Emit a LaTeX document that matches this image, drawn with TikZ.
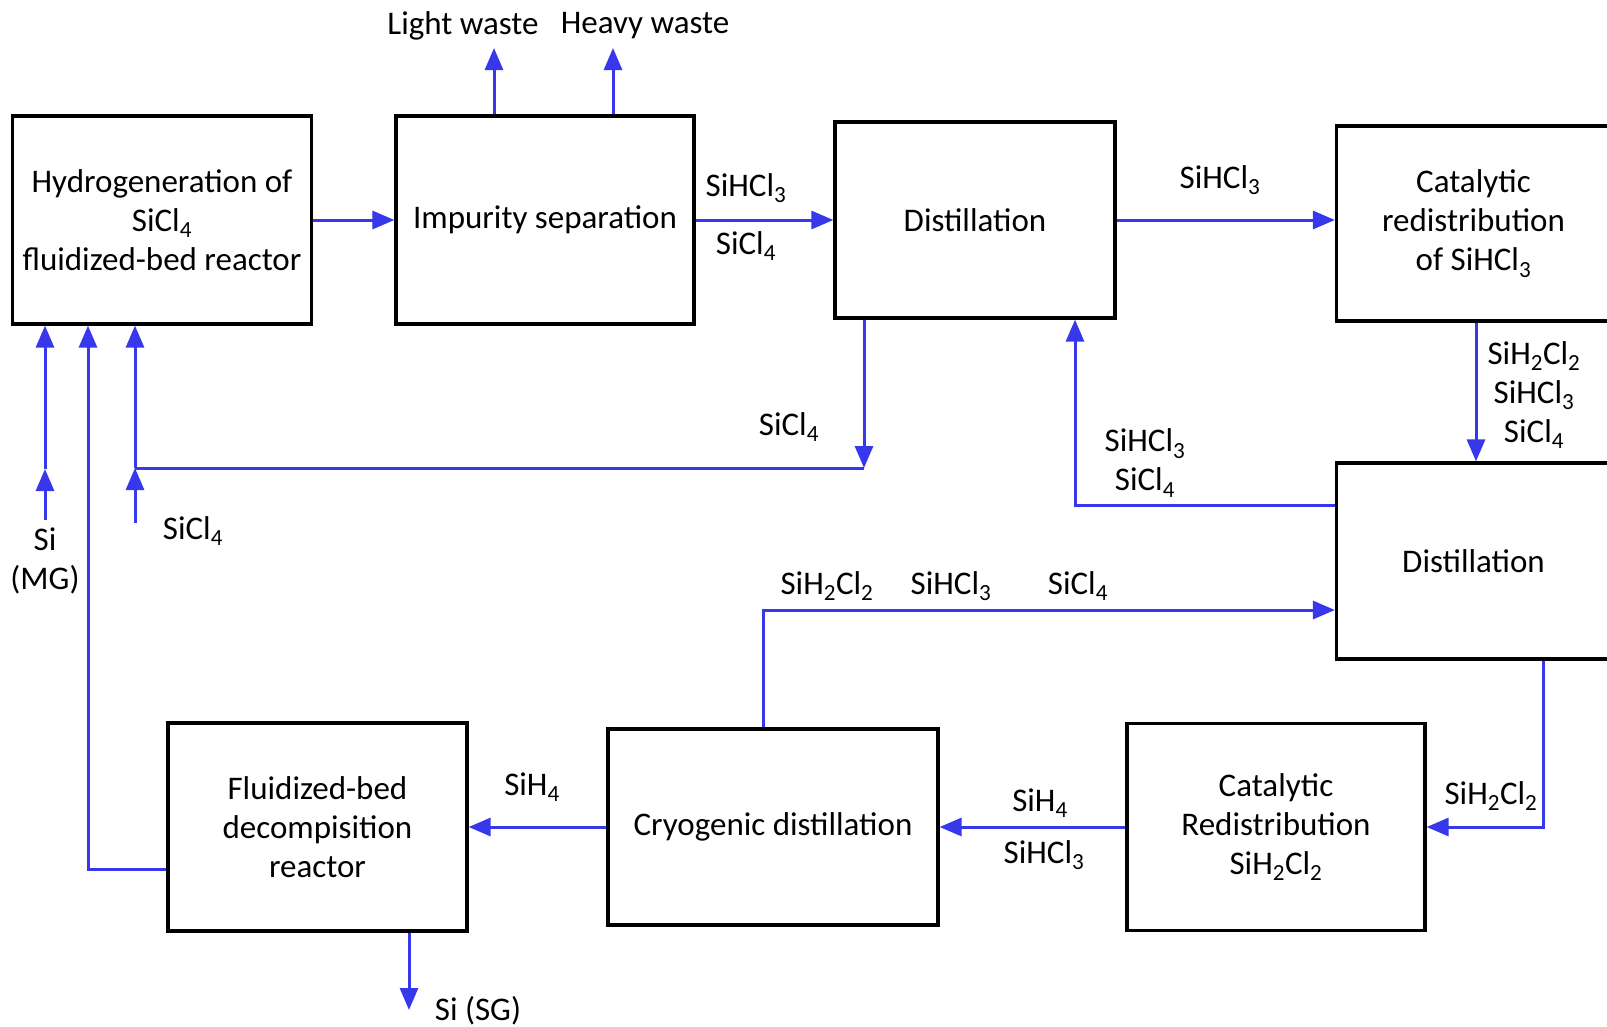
\documentclass[tikz,border=0pt]{standalone}
\usepackage{fontspec}
\setmainfont{Carlito}
\usetikzlibrary{arrows.meta}
\definecolor{flowblue}{RGB}{55,55,235}
\tikzset{
  box/.style={draw=black, line width=3.2pt, fill=white, align=center, inner sep=0pt},
  flow/.style={draw=flowblue, line width=3pt, -{Triangle[length=22pt,width=18pt]}},
  plain/.style={draw=flowblue, line width=3pt},
  lbl/.style={align=center, inner sep=0pt},
}
\newcommand{\sbs}[1]{\textsubscript{#1}}
\begin{document}
\begin{tikzpicture}[x=1pt,y=-1pt]
\fontsize{33}{39}\selectfont
\useasboundingbox (0,0) rectangle (1607,1026);
% boxes
\node[box, minimum width=299pt, minimum height=208pt] (b1) at (162,220) {Hydrogeneration of\\SiCl\sbs{4}\\fluidized-bed reactor};
\node[box, minimum width=298pt, minimum height=208pt] (b2) at (545,220) {Impurity separation};
\node[box, minimum width=280pt, minimum height=196pt] (b3) at (975,220) {Distillation};
\node[box, minimum width=274pt, minimum height=195pt] (b4) at (1473.5,223.5) {Catalytic\\redistribution\\of SiHCl\sbs{3}};
\node[box, minimum width=274pt, minimum height=196pt] (b5) at (1473.5,561) {Distillation};
\node[box, minimum width=298pt, minimum height=207pt] (b6) at (1276,827) {Catalytic\\Redistribution\\SiH\sbs{2}Cl\sbs{2}};
\node[box, minimum width=330pt, minimum height=196pt] (b7) at (773,827) {Cryogenic distillation};
\node[box, minimum width=299pt, minimum height=208pt] (b8) at (317.5,827) {Fluidized-bed\\decompisition\\reactor};
% helper coordinates
\coordinate (lw) at (494,48);
\coordinate (hw) at (613,48);
\coordinate (j1) at (864,468);
\coordinate (j2) at (135,468);
\coordinate (s4in) at (135,523);
\coordinate (mgin) at (45,520);
\coordinate (mgj) at (45,469);
\coordinate (r1) at (88,869);
\coordinate (sg) at (409,1010);
\coordinate (c5) at (1543.5,827);
\coordinate (c7) at (763.6,610);
\coordinate (c3) at (1075,505);
\coordinate (c4) at (1476,0);
% connectors
\draw[flow] (b1.east) -- (b2.west);
\draw[flow] (b2.east) -- (b3.west);
\draw[flow] (b3.east) -- (b3.east -| b4.west);
\draw[flow] (b2.north -| lw) -- (lw);
\draw[flow] (b2.north -| hw) -- (hw);
\draw[flow] (b3.south -| j1) -- (j1);
\draw[plain] (j1) -- (j2);
\draw[flow] (j2) -- (b1.south -| j2);
\draw[flow] (s4in) -- (j2);
\draw[flow] (mgin) -- (mgj);
\draw[flow] (mgj) -- (b1.south -| mgj);
\draw[flow] (b8.west |- r1) -- (r1) -- (b1.south -| r1);
\draw[flow] (b8.south -| sg) -- (sg);
\draw[flow] (b7.west) -- (b7.west -| b8.east);
\draw[flow] (b6.west) -- (b6.west -| b7.east);
\draw[flow] (b5.south -| c5) -- (c5) -- (b6.east);
\draw[flow] (b7.north -| c7) -- (c7) -- (c7 -| b5.west);
\draw[flow] (b5.west |- c3) -- (c3) -- (b3.south -| c3);
\draw[flow] (b4.south -| c4) -- (b5.north -| c4);
% labels
\node[lbl] (tlw) at (463,26) {Light waste};
\node[lbl] (thw) at (645,26) {Heavy waste};
\node[lbl] (t1) at (746,188) {SiHCl\sbs{3}};
\node[lbl] (t2) at (746,246) {SiCl\sbs{4}};
\node[lbl] (t3) at (1220,180) {SiHCl\sbs{3}};
\node[lbl] (t4) at (789,427) {SiCl\sbs{4}};
\node[lbl] (t5) at (193,531) {SiCl\sbs{4}};
\node[lbl] (t6) at (45,561) {Si\\(MG)};
\node[lbl] (t7) at (1534,395) {SiH\sbs{2}Cl\sbs{2}\\SiHCl\sbs{3}\\SiCl\sbs{4}};
\node[lbl] (t8) at (1145,463) {SiHCl\sbs{3}\\SiCl\sbs{4}};
\node[lbl] (t9) at (827,586) {SiH\sbs{2}Cl\sbs{2}};
\node[lbl] (t10) at (951,586) {SiHCl\sbs{3}};
\node[lbl] (t11) at (1078,586) {SiCl\sbs{4}};
\node[lbl] (t12) at (1491,796) {SiH\sbs{2}Cl\sbs{2}};
\node[lbl] (t13) at (1040,803) {SiH\sbs{4}};
\node[lbl] (t14) at (1044,855) {SiHCl\sbs{3}};
\node[lbl] (t15) at (532,787) {SiH\sbs{4}};
\node[lbl] (t16) at (478,1011) {Si (SG)};
\end{tikzpicture}
\end{document}
